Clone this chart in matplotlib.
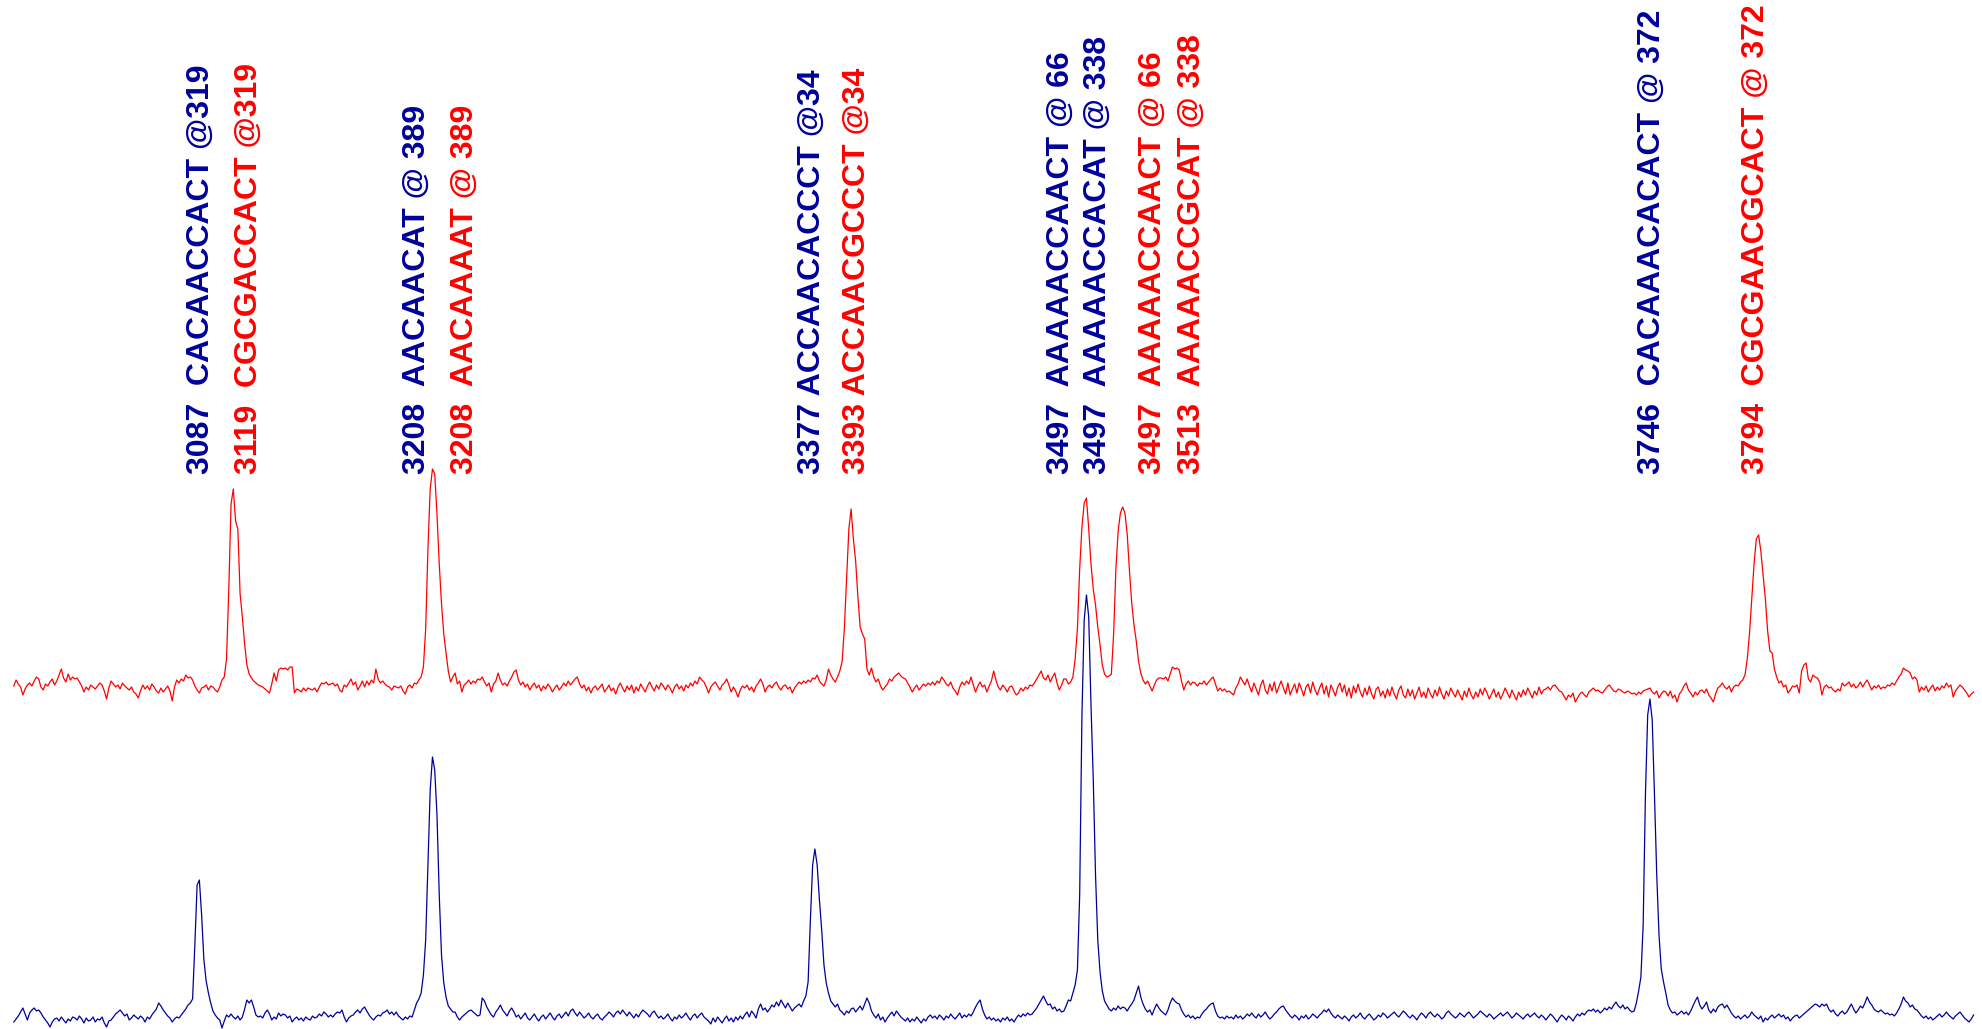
import numpy as np
import matplotlib
matplotlib.use("Agg")
import matplotlib.pyplot as plt

# m/z grid, 1 Da steps from 3023 to 3889
mz_start = 3023
mz_stop = 3889

# red trace (upper), intensity above its baseline, rows of 10 Da (first row 3023-3029)
red_int = [
    3, 9, 5, 2, -6, 0, 4,
    6, 3, 8, 12, 10, 2, -1, 5, 3, 7,                 # 3030
    10, 4, 8, 14, 20, 11, 7, 15, 9, 12,
    10, 11, 7, 3, -3, 2, -1, 4, 2, 0,
    3, 6, 4, -2, -10, 1, 8, 5, 2, 4,
    0, 6, 3, 1, -1, 2, -3, -5, -9, -2,
    4, 0, 3, -1, 5, 2, -2, -4, 1, -3,                # 3080
    0, 3, -2, -12, 2, 9, 6, 10, 8, 14,
    11, 12, 9, 3, -1, -4, 1, 2, 4, -1,
    3, 2, -1, -3, 2, 9, 12, 30, 100, 185,
    200, 168, 160, 95, 72, 45, 24, 15, 11, 8,        # 3120
    6, 4, 3, 2, 0, -2, -4, 5, 16, 8,
    19, 21, 20, 21, 19, 22, 22, -4, 0, -1,
    -3, 1, -2, 1, 0, -1, 1, -3, 2, 6,
    5, 7, 4, 5, 6, 3, 5, -1, -3, 4,
    2, 6, 10, 4, 7, -1, 3, 8, 2, 8,                  # 3170
    4, 9, 6, 20, 10, 6, 8, 5, 3, 2,
    -1, 3, 2, 1, 3, -2, -5, 2, 4, 1,
    6, 5, 9, 12, 22, 60, 140, 200, 220, 215,         # 3200
    175, 125, 85, 55, 36, 18, 7, 12, 16, 5,
    8, -3, 4, 6, 9, 5, 8, 6, 10, 9,
    12, 7, 3, 6, -3, 5, 8, 16, 9, 4,
    6, 3, 8, 12, 17, 19, 9, 4, 7, 2,                 # 3240
    5, -1, 3, 6, 1, 4, -2, 3, 0, 5,
    2, -3, 1, 4, -1, 2, 6, 3, 8, 4,
    7, 10, 12, 5, 1, 4, -2, 2, -4, 1,
    3, -1, 2, 5, -3, 0, 4, -2, 1, -5,
    2, 6, 1, -3, 3, -1, 4, -4, 2, -2,                # 3290
    5, 1, -3, 3, 7, 2, -2, 4, 0, 6,
    3, -1, 4, 1, -4, 2, 5, 0, 3, -2,
    4, 1, 6, 3, 8, 5, 12, 9, 7, 2,
    -4, 2, 5, 7, 3, -1, 4, 6, 10, 4,                 # 3330
    -3, 2, -2, -8, -1, 3, 1, 4, -1, 2,
    -3, 3, 6, 10, 5, -3, 2, 4, 1, 5,
    7, 2, -1, 3, 4, 0, 2, -4, 1, 4,
    7, 5, 8, 6, 9, 7, 11, 10, 14, 8,
    5, 3, 9, 20, 14, 10, 7, 12, 18, 27,              # 3380
    60, 110, 160, 180, 150, 128, 92, 62, 55, 50,
    20, 14, 21, 12, 7, 10, 3, -1, 2, 5,
    10, 8, 12, 14, 16, 13, 11, 10, 6, 2,
    -3, 1, 4, -1, 2, 5, 3, 6, 4, 7,
    4, 8, 6, 12, 9, 5, 3, 7, 1, -2,                  # 3430
    -6, 2, 7, 4, 8, 5, 12, 4, -3, 3,
    7, 2, 4, -3, 3, 8, 18, 9, 2, -1,
    4, 1, -3, 2, 3, -2, -6, -4, 1, -2,
    2, 0, 4, 3, 6, 10, 14, 18, 11, 9,
    14, 7, 12, 16, 6, -1, 4, 10, 10, 5,              # 3480
    7, 12, 30, 60, 120, 162, 186, 191, 160, 125,
    100, 84, 62, 44, 24, 15, 12, 13, 15, 55,
    120, 158, 176, 182, 176, 155, 118, 86, 64, 48,
    28, 16, 9, 5, 8, 3, -2, 4, 9, 11,
    11, 10, 12, 8, 15, 22, 20, 21, 19, 8,            # 3530
    -1, 5, 8, 4, 7, 6, 3, 6, 5, 8,
    4, 7, 10, 12, 5, -2, 1, -2, 0, -3,
    -2, -4, -6, 1, 5, 12, 8, 4, 10, 3,
    -3, 6, 0, -6, 4, 9, -1, -5, 5, -2,
    7, -4, 2, 8, 1, -5, 6, -6, 0, 5,                 # 3580
    -4, 6, 0, -7, 2, 5, -4, 7, -1, -6,
    1, 6, -5, 3, -8, 4, -1, -7, 2, 6,
    -3, 4, -7, 1, -9, 3, -4, 5, -3, -8,
    1, -6, 3, -5, -10, 0, 2, -7, -2, -9,
    0, -7, 2, -5, -10, -1, 3, -6, -9, 0,             # 3630
    -7, -1, -10, -4, 2, -8, -3, -9, 1, -5,
    -9, -1, -7, 2, -5, -10, -2, -7, 1, -4,
    -8, -1, -6, -11, -2, -8, 1, -6, -10, -3,
    -8, 0, -6, 1, -4, -10, -5, 0, -8, -3,
    -10, -5, 1, -4, -9, -1, -6, -11, -3, -8,         # 3680
    -1, -6, 1, -4, -9, -2, -6, 2, -5, -1,
    0, 2, -1, 3, 4, 1, -2, -3, -7, -11,
    -6, -8, -4, -13, -9, -5, -3, -6, -8, -3,
    -1, 1, -2, -1, -3, -4, -1, 2, 4, 1,
    -2, -3, 0, -1, -3, -4, -2, -3, -5, -4,           # 3730
    -6, -3, -5, -2, -1, 0, 1, -3, -5, -2,
    -9, -5, -2, -3, -7, -2, -9, -6, -13, -5,
    -2, 3, 6, -1, -4, -8, -3, -6, -2, -1,
    -4, 0, -6, -9, -13, -5, 1, 3, 6, 2,
    0, 3, -3, 2, 4, 3, 7, 9, 14, 30,                 # 3780
    56, 90, 125, 150, 154, 138, 114, 90, 58, 38,
    36, 20, 12, 6, 8, 2, 4, -4, -1, 3,
    2, 4, -4, 18, 24, 26, 10, 7, 14, 12,
    11, 7, -6, 2, 4, 1, 2, -1, -3, 0,
    -2, 6, 3, 5, 7, 2, 5, 1, 3, 7,                   # 3830
    2, 6, 9, 4, -1, 3, 1, 4, 0, 2,
    1, 4, 3, 6, 4, 8, 12, 15, 21, 19,
    18, 16, 10, 12, 9, -3, 2, -1, 3, -3,
    1, 4, -2, 2, -1, 3, 1, 6, 2, 4,
    -8, -2, 1, 4, 2, -1, -4, -8, -5, -3,             # 3880
]

# blue trace (lower), same grid
blue_int = [
    -7, -4, -1, 3, 7, 1, -5,
    2, 5, 7, 4, 5, 2, -2, -5, -8, -12,               # 3030
    -7, -4, -3, -6, -2, -5, -8, -4, -6, -2,
    -3, -5, -1, -4, -8, -3, -6, -5, -2, -7,
    -4, -5, -2, -8, -12, -6, -5, -2, 1, 3,
    5, 2, -1, 1, -5, -3, 0, -2, -4, -1,
    -3, -7, -2, -4, 0, 3, 6, 12, 9, 5,               # 3080
    2, -1, -3, -7, -4, -2, -3, 0, 3, 6,
    10, 12, 16, 70, 130, 135, 100, 55, 34, 22,
    12, 4, 0, -3, -5, -13, -6, 0, -2, 1,
    -2, -4, -1, -5, -2, 6, 15, 12, 15, 8,            # 3120
    0, -2, -1, -3, 2, 5, 1, -5, -2, -4,
    2, -1, 1, 0, -3, -1, -7, -4, -2, -5,
    -3, -6, -2, -4, -5, -1, -3, -2, 1, -1,
    3, 1, -2, 0, -2, 1, 3, 2, 5, -2,
    -7, -3, -1, 0, 3, 5, 2, 6, 8, 4,                 # 3170
    0, -3, -5, -2, 0, -1, 2, 3, 5, 1,
    3, 0, 3, -1, -3, -5, -2, -4, -1, -2,
    5, 12, 16, 22, 40, 75, 150, 225, 258, 245,       # 3200
    200, 120, 60, 32, 18, 9, 6, 3, 3, -2,
    -5, -2, 0, 2, 4, 5, 3, 1, -1, 0,
    17, 14, 8, 4, 0, -2, 3, 6, 10, 5,
    2, -1, 4, 7, 3, -2, 0, -4, -1, 2,                # 3240
    -3, -5, -2, 1, -3, -6, -2, 0, -4, -1,
    2, -2, -5, -1, 1, -3, 0, 3, -1, 4,
    6, 2, -1, 3, 0, -3, -1, 2, -2, -4,
    -1, 1, -3, -5, -2, 0, 3, 1, -2, 2,
    4, 1, 5, 2, -1, 3, 0, -3, 1, -2,                 # 3290
    2, 5, 3, 1, -2, 2, 4, 0, -3, -1,
    -4, -2, 1, -3, -6, -2, -4, 0, -3, -1,
    2, -2, -5, -1, 1, -3, 0, 2, -2, -4,
    -6, -9, -3, -7, -2, -5, -8, -4, -1, -6,          # 3330
    -3, -7, -2, -5, -1, -4, 0, 3, -2, 4,
    1, -3, 6, 11, 5, 7, 3, 6, 10, 8,
    13, 9, 15, 11, 7, 12, 8, 4, 7, 9,
    11, 8, 14, 19, 33, 95, 150, 166, 150, 115,
    85, 50, 32, 22, 14, 11, 8, 11, 5, 3,             # 3380
    0, 4, 2, 6, 7, 3, 6, 9, 5, 11,
    17, 12, 4, 0, -3, 1, -5, -2, -7, -3,
    0, 3, -1, 4, 1, -2, -4, -6, -3, -7,
    -4, -6, -2, -5, -8, -4, -6, -2, 0, -3,
    -1, -4, 0, -2, -5, -1, -3, 1, -2, -4,            # 3430
    -1, 2, -3, 0, -2, 1, -1, 3, 8, 12,
    15, 6, 0, -4, -2, -5, -3, -6, -4, -7,
    -3, -5, -2, -6, -4, -7, -3, 0, -2, 1,
    -1, 2, 0, 1, 4, 7, 11, 15, 19, 14,
    10, 11, 6, 8, 4, 6, 3, 4, 9, 15,                 # 3480
    14, 22, 30, 45, 120, 300, 395, 420, 398, 310,
    236, 140, 75, 43, 24, 14, 10, 6, 4, 7,
    5, 9, 6, 8, 7, 4, 8, 11, 15, 22,
    29, 18, 11, 6, 3, 5, 0, 6, 11, 7,
    4, 2, 0, 5, 12, 17, 14, 12, 11, 5,               # 3530
    1, -2, 0, -3, -1, -4, -2, -3, 1, 4,
    6, 9, 11, 12, 4, -1, -3, -2, -4, -1,
    -3, -2, -4, 0, -3, -1, -4, -2, 1, -1,
    2, -1, -3, 1, -2, 0, 3, -1, -4, -2,
    1, 3, 6, 8, 9, 5, 2, -1, -3, 0,                  # 3580
    -2, -5, -1, -3, 0, -4, -2, 1, -1, -3,
    0, 2, 5, 3, 6, 2, -1, -3, 0, -2,
    -4, -1, -3, -6, -2, 0, -3, -1, 2, -2,
    -4, -1, 1, -2, -5, -3, 0, -2, 2, 0,
    -3, -1, 1, 3, 0, -2, 1, 4, 2, -1,                # 3630
    -3, 0, -2, -5, -1, 2, 0, -3, 1, 3,
    0, -2, 1, -1, -4, -2, 2, 4, 1, -1,
    -3, -1, 2, 0, -2, 1, 3, 0, -3, -1,
    1, 4, 2, 0, -2, 1, -1, -4, -2, 0,
    2, -1, 1, 3, 0, -3, -1, 2, 0, -2,                # 3680
    -4, -1, 1, -2, 0, 2, -1, -3, 0, -2,
    -5, -2, 1, -1, -4, -7, -3, 0, -2, -5,
    -1, -3, -6, -2, 1, -1, 2, 0, 3, 5,
    4, 6, 3, 5, 2, 4, 7, 5, 8, 6,
    10, 13, 9, 7, 10, 6, 8, 5, 3, 4,                 # 3730
    12, 24, 38, 90, 220, 300, 316, 295, 220, 140,
    80, 46, 33, 22, 10, 5, 2, 3, 0, 2,
    4, 1, 3, 0, 4, 9, 14, 18, 10, 6,
    9, 13, 5, 2, 6, 3, 8, 10, 11, 7,
    10, 6, 2, -1, -3, -1, -4, -2, 0, -3,             # 3780
    -1, 3, 0, -2, -4, -1, -7, -3, -5, -2,
    0, -3, -1, 1, -2, 0, -4, -2, -6, -3,
    -1, 0, -3, -1, 1, 3, 5, 7, 9, 11,
    10, 8, 11, 9, 11, 6, 3, 5, 1, -1,
    2, 4, 1, 3, 7, 11, 6, 2, 5, 9,                   # 3830
    7, 12, 18, 13, 10, 6, 4, 3, 5, 3,
    1, 2, 0, 1, -1, 2, 6, 11, 18, 14,
    12, 8, 10, 6, 5, 2, -1, -3, -1, -4,
    -2, -5, -3, -1, 1, -2, 0, 3, 0, -2,
    -4, -1, 1, 3, 0, -3, -5, -7, -4, 0,              # 3880
]

# peak labels: (x position in m/z, text)
blue_label_x = [3104.2, 3199.8, 3374.4, 3484.2, 3500.8, 3745.6]
blue_labels = [
    "3087  CACAACCACT @319",
    "3208  AACAACAT @ 389",
    "3377 ACCAACACCCT @34",
    "3497  AAAAACCAACT @ 66",
    "3497  AAAAACCACAT @ 338",
    "3746  CACAAACACACT @ 372",
]
red_label_x = [3125.4, 3221.1, 3394.3, 3525.1, 3542.3, 3791.3]
red_labels = [
    "3119  CGCGACCACT @319",
    "3208  AACAAAAT @ 389",
    "3393 ACCAACGCCCT @34",
    "3497  AAAAACCAACT @ 66",
    "3513  AAAAACCGCAT @ 338",
    "3794  CGCGAACGCACT @ 372",
]

mz = np.arange(mz_start, mz_stop + 1)
red_int = np.array(red_int, dtype=float)
blue_int = np.array(blue_int, dtype=float)

RED = "#ff0000"
BLUE = "#00009c"
red_offset = 326
label_y = 541

fig = plt.figure(figsize=(19.82, 10.29), dpi=100)
ax = fig.add_axes([0, 0, 1, 1])
ax.plot(mz, red_int + red_offset, color=RED, lw=0.9)
ax.plot(mz, blue_int, color=BLUE, lw=0.9)

font = dict(family="Liberation Sans", weight="bold", size=23,
            rotation=90, ha="center", va="bottom")
for x, s in zip(blue_label_x, blue_labels):
    ax.text(x + 1.3, label_y, s, color=BLUE, **font)
for x, s in zip(red_label_x, red_labels):
    ax.text(x + 1.3, label_y, s, color=RED, **font)

ax.set_xlim(3016.9, 3016.9 + 1982 / 2.263)
ax.set_ylim(-14, 1015)
ax.axis("off")

fig.savefig("out.png", dpi=100)
